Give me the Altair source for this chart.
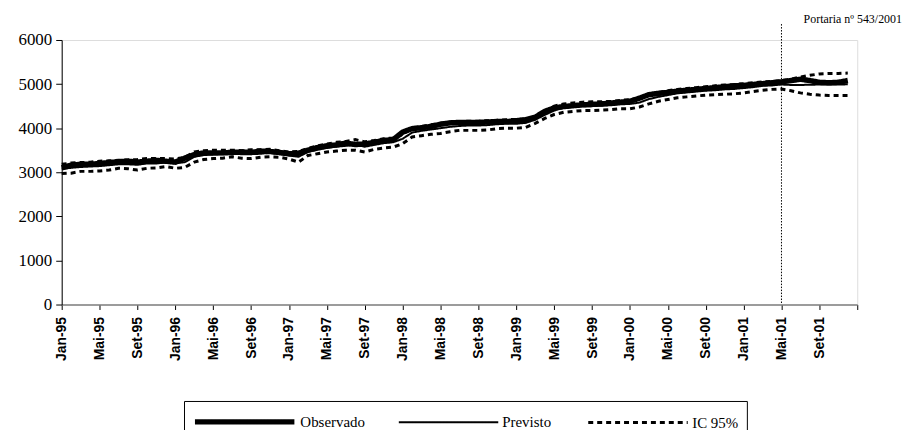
import altair as alt
import pandas as pd

# ---- data ----
tick_labels = ["Jan-95", "Mai-95", "Set-95", "Jan-96", "Mai-96", "Set-96",
               "Jan-97", "Mai-97", "Set-97", "Jan-98", "Mai-98", "Set-98",
               "Jan-99", "Mai-99", "Set-99", "Jan-00", "Mai-00", "Set-00",
               "Jan-01", "Mai-01", "Set-01"]

observado = [3100, 3160, 3180, 3180, 3200, 3220, 3240, 3250, 3230, 3250, 3270, 3250,
             3230, 3320, 3400, 3440, 3440, 3440, 3450, 3460, 3450, 3480, 3470, 3450,
             3420, 3430, 3500, 3560, 3600, 3620, 3660, 3630, 3640, 3680, 3720, 3740,
             3910, 3990, 4010, 4040, 4090, 4120, 4130, 4130, 4130, 4140, 4150, 4150,
             4170, 4190, 4250, 4380, 4460, 4490, 4510, 4530, 4540, 4550, 4570, 4590,
             4610, 4680, 4760, 4790, 4810, 4840, 4860, 4880, 4900, 4920, 4940, 4960,
             4970, 4990, 5010, 5030, 5050, 5080, 5110, 5080, 5040, 5030, 5040, 5080]

previsto = [3080, 3100, 3120, 3130, 3140, 3160, 3180, 3180, 3170, 3200, 3200, 3220,
            3200, 3230, 3350, 3390, 3400, 3410, 3420, 3410, 3410, 3420, 3440, 3410,
            3380, 3350, 3460, 3510, 3550, 3580, 3600, 3620, 3580, 3620, 3660, 3680,
            3760, 3900, 3940, 3970, 4000, 4030, 4050, 4060, 4060, 4070, 4090, 4100,
            4100, 4120, 4190, 4300, 4400, 4460, 4480, 4500, 4500, 4510, 4520, 4540,
            4550, 4580, 4660, 4710, 4750, 4790, 4810, 4830, 4850, 4860, 4880, 4890,
            4910, 4930, 4960, 4970, 4990, 4980, 4980, 4985, 4990, 4990, 4990, 4995]

ic_sup = [3180, 3210, 3220, 3230, 3250, 3260, 3270, 3280, 3290, 3310, 3310, 3310,
          3300, 3340, 3460, 3490, 3500, 3500, 3500, 3490, 3510, 3510, 3520, 3490,
          3460, 3470, 3540, 3600, 3640, 3680, 3700, 3740, 3690, 3720, 3760, 3780,
          3860, 4000, 4040, 4080, 4110, 4140, 4150, 4160, 4160, 4170, 4180, 4190,
          4200, 4210, 4260, 4380, 4500, 4550, 4570, 4590, 4600, 4600, 4610, 4630,
          4650, 4680, 4760, 4810, 4850, 4880, 4900, 4920, 4940, 4960, 4980, 4990,
          5010, 5030, 5050, 5060, 5080, 5110, 5160, 5200, 5230, 5240, 5240, 5250]

ic_inf = [2970, 2980, 3020, 3020, 3030, 3050, 3090, 3080, 3050, 3090, 3100, 3130,
          3090, 3110, 3230, 3290, 3310, 3320, 3350, 3320, 3310, 3340, 3350, 3340,
          3300, 3230, 3380, 3420, 3460, 3480, 3500, 3500, 3460, 3520, 3550, 3570,
          3650, 3800, 3830, 3860, 3880, 3920, 3950, 3950, 3950, 3960, 3990, 4000,
          4000, 4020, 4110, 4220, 4310, 4360, 4380, 4400, 4400, 4410, 4420, 4440,
          4440, 4480, 4550, 4610, 4650, 4690, 4710, 4730, 4750, 4760, 4770, 4780,
          4800, 4830, 4860, 4880, 4890, 4850, 4800, 4770, 4750, 4740, 4740, 4740]

serie_nomes = ["Observado", "Previsto", "IC 95%"]
marco_mes = [76]
nota = ["Portaria nº 543/2001"]

# ---- long table ----
rows = []
for i in range(len(observado)):
    rows.append({"mes": i, "valor": observado[i], "serie": "Observado", "parte": "obs"})
    rows.append({"mes": i, "valor": previsto[i], "serie": "Previsto", "parte": "prev"})
    rows.append({"mes": i, "valor": ic_sup[i], "serie": "IC 95%", "parte": "sup"})
    rows.append({"mes": i, "valor": ic_inf[i], "serie": "IC 95%", "parte": "inf"})
df = pd.DataFrame(rows)

label_expr = "[" + ",".join("'" + t + "'" for t in tick_labels) + "][round(datum.value / 4)] || ''"

x_scale = alt.Scale(domain=[0, 84], nice=False, zero=False)
x_axis = alt.Axis(values=list(range(0, 85, 4)), labelExpr=label_expr, labelAngle=-90,
                  labelFont="Liberation Sans", labelFontWeight="bold", labelFontSize=14,
                  labelColor="black", tickSize=5, tickColor="black", labelPadding=7,
                  domainColor="#808080", domainWidth=1.5, title=None, grid=False,
                  labelOverlap=False, labelFlush=False, labelBound=False)
y_axis = alt.Axis(values=[0, 1000, 2000, 3000, 4000, 5000, 6000], format="d",
                  tickSize=6, tickColor="black", labelPadding=4,
                  labelFont="Liberation Serif", labelFontSize=17, labelColor="black",
                  domainColor="black", title=None, grid=False)

legend = alt.Legend(title=None, orient="none", legendX=123, legendY=363,
                    direction="horizontal", strokeColor="black", padding=8,
                    symbolType="M-1,0H9", symbolSize=400, symbolStrokeColor="black",
                    symbolFillColor="transparent",
                    labelFont="Liberation Serif", labelFontSize=15, labelColor="black",
                    columnPadding=30, labelOffset=83)

lines = alt.Chart(df).mark_line(color="black").encode(
    x=alt.X("mes:Q", scale=x_scale, axis=x_axis),
    y=alt.Y("valor:Q", scale=alt.Scale(domain=[0, 6000], nice=False), axis=y_axis),
    strokeWidth=alt.StrokeWidth("serie:N",
                                scale=alt.Scale(type="ordinal", domain=serie_nomes, range=[5.5, 2, 3]),
                                legend=legend),
    strokeDash=alt.StrokeDash("serie:N",
                              scale=alt.Scale(domain=serie_nomes, range=[[1, 0], [1, 0], [5, 4]]),
                              legend=legend),
    detail="parte:N",
)

rule = alt.Chart(pd.DataFrame({"mes": marco_mes})).mark_rule(
    color="black", strokeDash=[1.5, 1.5], strokeWidth=1
).encode(x=alt.X("mes:Q", scale=x_scale, axis=x_axis), y=alt.value(-16), y2=alt.value(266))

text = alt.Chart(pd.DataFrame({"t": nota})).mark_text(
    align="right", baseline="middle", font="Liberation Serif", fontSize=12, color="black"
).encode(text="t:N", x=alt.value(845), y=alt.value(-21))

chart = alt.layer(lines, rule, text).properties(
    width=800, height=266,
    autosize=alt.AutoSizeParams(type="none"),
    padding={"left": 54, "top": 31, "right": 45, "bottom": 125},
).configure_view(stroke=None).configure(background="white").configure_axisX(
    labelOverlap=False
)

chart.save("out.html", embed_options={"renderer": "svg", "actions": False})
